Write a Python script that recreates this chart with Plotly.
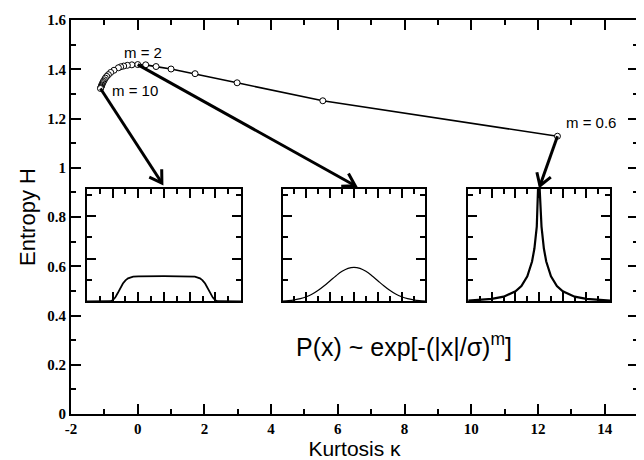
import math
import plotly.graph_objects as go

# ---------------- data ----------------
m_values = [0.6, 0.8, 1.0, 1.2, 1.4, 1.6, 1.8, 2.0, 2.2, 2.4, 2.6, 2.8, 3.0, 3.5, 4.0,
            4.5, 5.0, 5.5, 6.0, 6.5, 7.0, 7.5, 8.0, 8.5, 9.0, 9.5, 10.0]
kurtosis = [12.585, 5.55, 2.98, 1.72, 1.00, 0.55, 0.24, 0.0, -0.175, -0.31, -0.42, -0.51,
            -0.58, -0.71, -0.81, -0.88, -0.93, -0.97, -1.00, -1.025, -1.045, -1.062,
            -1.076, -1.088, -1.098, -1.108, -1.116]
entropy = [1.128, 1.272, 1.345, 1.382, 1.401, 1.411, 1.418, 1.419, 1.418, 1.416, 1.413,
           1.410, 1.406, 1.396, 1.387, 1.378, 1.371, 1.364, 1.357, 1.351, 1.346, 1.341,
           1.336, 1.332, 1.328, 1.325, 1.322]

x_tick_vals = [-2, 0, 2, 4, 6, 8, 10, 12, 14]
x_tick_text = ["-2", "0", "2", "4", "6", "8", "10", "12", "14"]
y_tick_vals = [0, 0.2, 0.4, 0.6, 0.8, 1.0, 1.2, 1.4, 1.6]
y_tick_text = ["0", "0.2", "0.4", "0.6", "0.8", "1", "1.2", "1.4", "1.6"]

# inset 1 : m = 10
inset1_x = [-3, -2.1, -2.0, -1.9, -1.8, -1.7, -1.6, -1.5, -1.4, -1.2, -1.0, 0,
            1.0, 1.2, 1.4, 1.5, 1.6, 1.7, 1.8, 1.9, 2.0, 2.1, 3]
inset1_y = [0, 0.002, 0.013, 0.045, 0.098, 0.158, 0.210, 0.247, 0.270, 0.289, 0.294, 0.295,
            0.294, 0.289, 0.270, 0.247, 0.210, 0.158, 0.098, 0.045, 0.013, 0.002, 0]
# inset 2 : m = 2
inset2_x = [-3, -2.75, -2.5, -2.25, -2, -1.75, -1.5, -1.25, -1, -0.75, -0.5, -0.25, 0,
            0.25, 0.5, 0.75, 1, 1.25, 1.5, 1.75, 2, 2.25, 2.5, 2.75, 3]
inset2_y = [0.004, 0.009, 0.018, 0.032, 0.054, 0.086, 0.130, 0.183, 0.242, 0.301, 0.352,
            0.387, 0.399, 0.387, 0.352, 0.301, 0.242, 0.183, 0.130, 0.086, 0.054, 0.032,
            0.018, 0.009, 0.004]
# inset 3 : m = 0.6
inset3_x = [-3, -2, -1.5, -1, -0.75, -0.5, -0.3, -0.2, -0.1, -0.05, -0.02, 0,
            0.02, 0.05, 0.1, 0.2, 0.3, 0.5, 0.75, 1, 1.5, 2, 3]
inset3_y = [0.010, 0.030, 0.056, 0.118, 0.180, 0.293, 0.467, 0.619, 0.875, 1.10, 1.33, 1.71,
            1.33, 1.10, 0.875, 0.619, 0.467, 0.293, 0.180, 0.118, 0.056, 0.030, 0.010]

# arrows: from the point with given m to a target above each inset
arrow_from_m = [10.0, 2.0, 0.6]
arrow_to_x = [0.725, 6.52, 12.06]
arrow_to_y = [0.938, 0.927, 0.927]

# ---------------- layout geometry ----------------
W, H = 636, 452
ML, MR, MT, MB = 63, 4, 7, 46
XR = [-2, 15]
YR = [0, 1.6]
sx = (W - ML - MR) / (XR[1] - XR[0])
sy = (H - MT - MB) / (YR[1] - YR[0])

fig = go.Figure()

fig.add_trace(go.Scatter(
    x=kurtosis, y=entropy, mode="lines+markers",
    line=dict(color="black", width=1.7),
    marker=dict(symbol="circle", size=6, color="white", line=dict(color="black", width=1)),
    showlegend=False, xaxis="x", yaxis="y"))

for i, (ix, iy, w) in enumerate([(inset1_x, inset1_y, 1.8), (inset2_x, inset2_y, 1.2),
                                  (inset3_x, inset3_y, 2.2)]):
    n = i + 2
    fig.add_trace(go.Scatter(x=ix, y=iy, mode="lines",
                             line=dict(color="black", width=w,
                                       shape="spline" if n == 3 else "linear"),
                             showlegend=False, xaxis=f"x{n}", yaxis=f"y{n}"))

# arrows as paths (shaft + open V head)
shapes = []
for m, tx, ty in zip(arrow_from_m, arrow_to_x, arrow_to_y):
    k = m_values.index(m)
    x0, y0 = kurtosis[k], entropy[k]
    px0, py0 = (x0 - XR[0]) * sx, -(y0 - YR[0]) * sy
    px1, py1 = (tx - XR[0]) * sx, -(ty - YR[0]) * sy
    d = math.hypot(px1 - px0, py1 - py0)
    ux, uy = (px1 - px0) / d, (py1 - py0) / d
    L, th = 14, math.radians(32)
    wings = []
    for s in (1, -1):
        c, sn = math.cos(s * th), math.sin(s * th)
        rx, ry = ux * c - uy * sn, ux * sn + uy * c
        wx, wy = px1 - L * rx, py1 - L * ry
        wings.append((wx / sx + XR[0], -wy / sy + YR[0]))
    shapes.append(dict(type="line", xref="x", yref="y", x0=x0, y0=y0, x1=tx, y1=ty,
                       line=dict(color="black", width=3)))
    path = (f"M {wings[0][0]},{wings[0][1]} L {tx},{ty} L {wings[1][0]},{wings[1][1]}")
    shapes.append(dict(type="path", xref="x", yref="y", path=path,
                       line=dict(color="black", width=3)))

tick_font = dict(family="Liberation Serif", size=15, color="black", weight="bold")

main_axis = dict(showline=True, linewidth=2, linecolor="black", mirror="allticks",
                 ticks="inside", tickcolor="black", tickwidth=1.5, showgrid=False,
                 zeroline=False, tickfont=tick_font, ticklabeloverflow="allow")

fig.update_layout(
    width=W, height=H,
    margin=dict(l=ML, r=MR, t=MT, b=MB),
    paper_bgcolor="white", plot_bgcolor="white",
    shapes=shapes,
    xaxis=dict(**main_axis, range=XR, tickmode="array", tickvals=x_tick_vals,
               ticktext=x_tick_text, ticklen=10,
               minor=dict(ticks="inside", ticklen=5, tickcolor="black", tickwidth=1.5,
                          tickmode="array", tickvals=list(range(-1, 15, 2))),
               title=dict(text="Kurtosis κ", standoff=0,
                          font=dict(family="Liberation Sans", size=21, color="black"))),
    yaxis=dict(**main_axis, range=YR, tickmode="array", tickvals=y_tick_vals,
               ticktext=y_tick_text, ticklen=10,
               minor=dict(ticks="inside", ticklen=5, tickcolor="black", tickwidth=1.5,
                          tickmode="array", tickvals=[0.1, 0.3, 0.5, 0.7, 0.9, 1.1, 1.3, 1.5]),
               title=dict(text="Entropy H", standoff=6,
                          font=dict(family="Liberation Sans", size=22, color="black"))),
)

inset_domains = [[0.0281, 0.300], [0.3731, 0.6251], [0.7005, 0.9508]]
for i, dom in enumerate(inset_domains):
    n = i + 2
    ax = dict(showline=True, linewidth=2, linecolor="black", mirror="allticks",
              ticks="inside", tickcolor="black", tickwidth=1.5, ticklen=9,
              showgrid=False, zeroline=False, showticklabels=False)
    fig.update_layout(**{
        f"xaxis{n}": dict(**ax, domain=dom, anchor=f"y{n}", range=[-3, 3],
                          tickmode="array", tickvals=[-2, -1, 0, 1, 2],
                          minor=dict(ticks="inside", ticklen=5, tickcolor="black",
                                     tickwidth=1.5, tickmode="array",
                                     tickvals=[-2.5, -1.5, -0.5, 0.5, 1.5, 2.5])),
        f"yaxis{n}": dict(**ax, domain=[0.2857, 0.5722], anchor=f"x{n}", range=[0, 1.32],
                          tickmode="array", tickvals=[0.5, 1.0],
                          minor=dict(ticks="inside", ticklen=5, tickcolor="black",
                                     tickwidth=1.5, tickmode="array",
                                     tickvals=[0.25, 0.75, 1.25])),
    })

lab_font = dict(family="Liberation Sans", size=15, color="black")
fig.add_annotation(x=0.157, y=1.468, xref="x", yref="y", text="m = 2", showarrow=False,
                   font=lab_font)
fig.add_annotation(x=-0.08, y=1.313, xref="x", yref="y", text="m = 10", showarrow=False,
                   font=lab_font)
fig.add_annotation(x=13.6, y=1.183, xref="x", yref="y", text="m = 0.6", showarrow=False,
                   font=lab_font)
fig.add_annotation(x=0.5867, y=0.13, xref="paper", yref="paper",
                   text="P(x) ~ exp[-(|x|/σ)<sup>m</sup>]", showarrow=False,
                   font=dict(family="Liberation Sans", size=25, color="black"))

fig.write_html("out.html")
